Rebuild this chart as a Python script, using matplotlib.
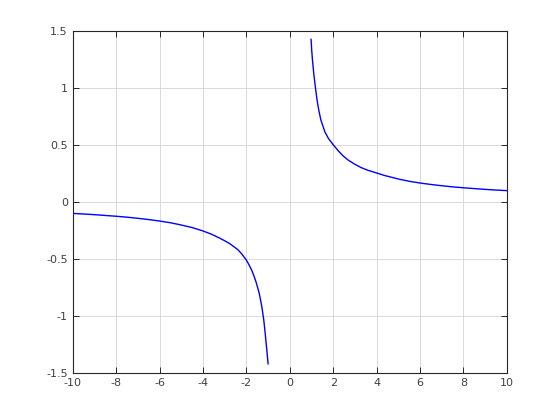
import matplotlib
matplotlib.use("Agg")
import matplotlib.pyplot as plt

# Values
x_pos = [0.98, 1.01, 1.045, 1.075, 1.106, 1.152, 1.198, 1.244, 1.306, 1.367, 1.429, 1.536, 1.62,
         1.78, 2.0, 2.23, 2.46, 2.69, 3.0, 3.3, 3.61, 4.0, 4.38, 5.07, 5.5, 6.0, 6.5, 7.0, 7.5,
         8.0, 8.5, 9.0, 9.5, 10.0]
y_pos = [1.427, 1.33, 1.246, 1.185, 1.125, 1.05, 0.98, 0.912, 0.836, 0.778, 0.722, 0.661, 0.614,
         0.558, 0.503, 0.45, 0.404, 0.368, 0.331, 0.301, 0.278, 0.255, 0.232, 0.199, 0.182, 0.167,
         0.154, 0.143, 0.133, 0.125, 0.118, 0.111, 0.105, 0.1]
x_neg = [-10.0, -9.5, -9.0, -8.5, -8.0, -7.5, -7.0, -6.5, -6.0, -5.5, -5.07, -4.5, -4.0, -3.6,
         -3.23, -3.0, -2.77, -2.58, -2.38, -2.2, -2.0, -1.88, -1.76, -1.66, -1.56, -1.48, -1.41,
         -1.35, -1.29, -1.245, -1.2, -1.16, -1.12, -1.09, -1.06, -1.03, -1.0]
y_neg = [-0.1, -0.105, -0.111, -0.118, -0.125, -0.133, -0.143, -0.154, -0.167, -0.182, -0.199,
         -0.224, -0.254, -0.283, -0.317, -0.34, -0.365, -0.391, -0.421, -0.459, -0.51, -0.551,
         -0.596, -0.645, -0.699, -0.752, -0.801, -0.857, -0.918, -0.975, -1.035, -1.105, -1.18,
         -1.24, -1.298, -1.36, -1.42]

xticks = [-10, -8, -6, -4, -2, 0, 2, 4, 6, 8, 10]
yticks = [-1.5, -1, -0.5, 0, 0.5, 1, 1.5]
ytick_labels = ["-1.5", "-1", "-0.5", "0", "0.5", "1", "1.5"]

fig = plt.figure(figsize=(5.6, 4.2), dpi=100)
ax = fig.add_axes([0.130, 0.112, 0.775, 0.814])
ax.plot(x_neg, y_neg, color="#0000ff", lw=1.0)
ax.plot(x_pos, y_pos, color="#0000ff", lw=1.0)
ax.set_xlim(-10, 10)
ax.set_ylim(-1.5, 1.5)
ax.set_xticks(xticks)
ax.set_xticklabels([str(t) for t in xticks])
ax.set_yticks(yticks)
ax.set_yticklabels(ytick_labels)
ax.grid(True, color="#d9d9d9", lw=0.7)
ax.set_axisbelow(True)
ax.tick_params(direction="in", top=True, right=True, length=4, width=0.7,
               labelsize=8, labelcolor="#404040", colors="#262626")
for s in ax.spines.values():
    s.set_linewidth(0.8)
    s.set_color("#262626")
fig.savefig("out.png", dpi=100)
